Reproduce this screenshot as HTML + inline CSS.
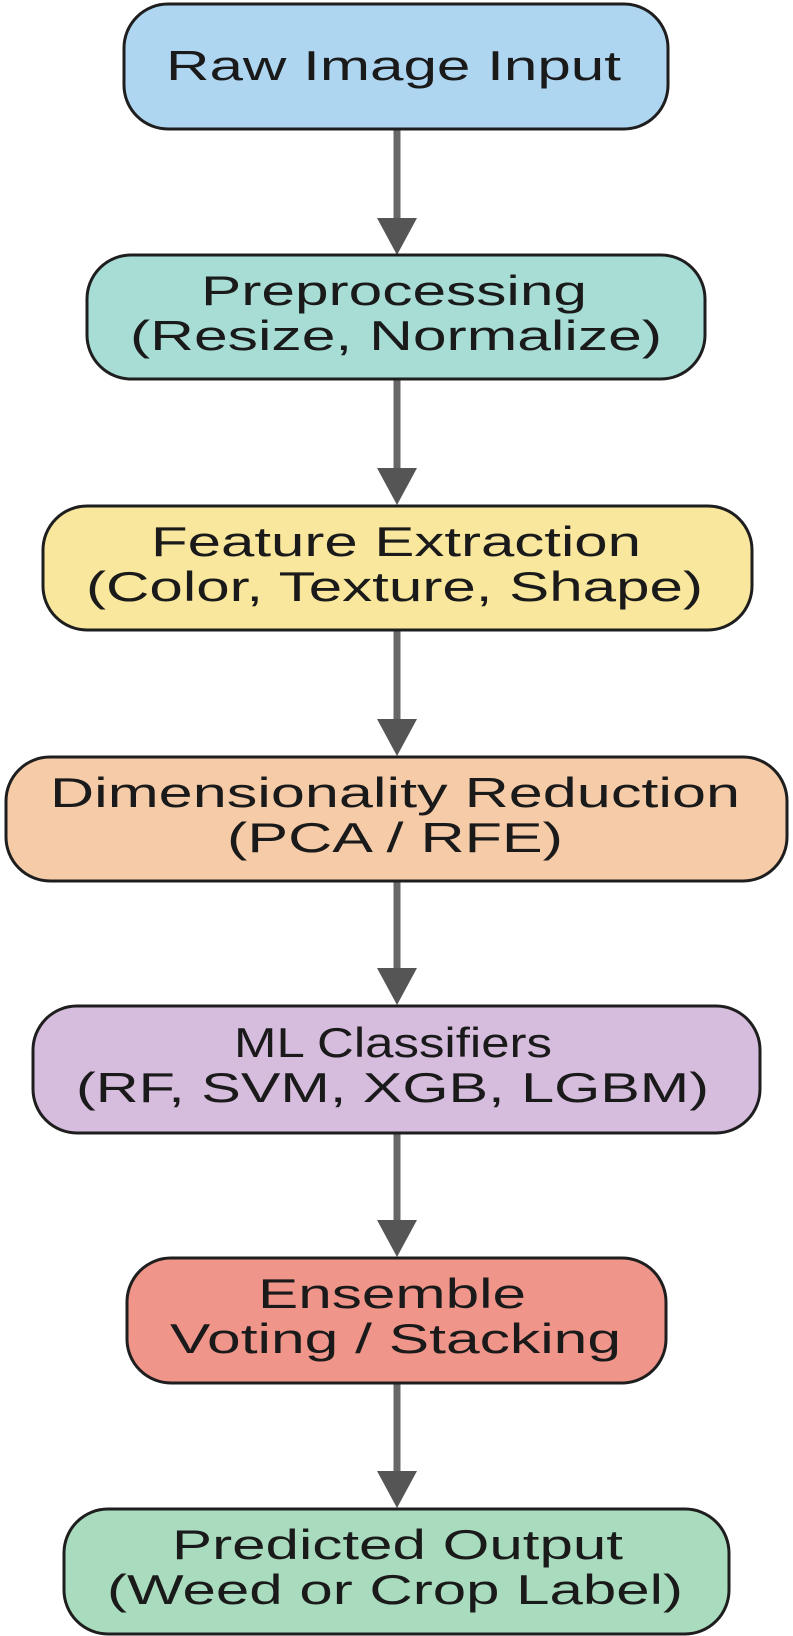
<!DOCTYPE html>
<html><head><meta charset="utf-8"><style>
html,body{margin:0;padding:0;background:#fff;}
svg{display:block;}
text{font-family:"Liberation Sans",sans-serif;font-size:42px;fill:#1a1a1a;}
</style></head><body>
<svg width="793" height="1636" viewBox="0 0 793 1636" xmlns="http://www.w3.org/2000/svg">
<g stroke="#676767" stroke-width="7">
<line x1="397" y1="129" x2="397" y2="222"/>
<line x1="397" y1="379" x2="397" y2="472"/>
<line x1="397" y1="630" x2="397" y2="723"/>
<line x1="397" y1="881" x2="397" y2="972"/>
<line x1="397" y1="1133" x2="397" y2="1224"/>
<line x1="397" y1="1383" x2="397" y2="1475"/>
</g>
<g fill="#555">
<polygon points="377,218 417,218 397,255"/>
<polygon points="377,468 417,468 397,505"/>
<polygon points="377,719 417,719 397,756"/>
<polygon points="377,968 417,968 397,1005"/>
<polygon points="377,1220 417,1220 397,1257"/>
<polygon points="377,1471 417,1471 397,1508"/>
</g>
<g stroke="#1e1e1e" stroke-width="3">
<rect x="124" y="4" width="544" height="125" rx="44" fill="#aed6f1"/>
<rect x="87" y="255" width="618" height="124" rx="44" fill="#a7ddd5"/>
<rect x="43" y="506" width="709" height="124" rx="44" fill="#f8e79d"/>
<rect x="6" y="757" width="781" height="124" rx="44" fill="#f6cba8"/>
<rect x="33" y="1006" width="727" height="127" rx="44" fill="#d6bcdd"/>
<rect x="127" y="1258" width="539" height="125" rx="44" fill="#f0958a"/>
<rect x="64" y="1509" width="665" height="125" rx="44" fill="#a9dcbe"/>
</g>
<text x="166" y="80" textLength="455" lengthAdjust="spacingAndGlyphs">Raw Image Input</text>
<text x="201" y="305" textLength="386" lengthAdjust="spacingAndGlyphs">Preprocessing</text>
<text x="130" y="350" textLength="532" lengthAdjust="spacingAndGlyphs">(Resize, Normalize)</text>
<text x="151" y="556" textLength="490" lengthAdjust="spacingAndGlyphs">Feature Extraction</text>
<text x="86" y="601" textLength="617" lengthAdjust="spacingAndGlyphs">(Color, Texture, Shape)</text>
<text x="50" y="807" textLength="690" lengthAdjust="spacingAndGlyphs">Dimensionality Reduction</text>
<text x="227" y="852" textLength="336" lengthAdjust="spacingAndGlyphs">(PCA / RFE)</text>
<text x="234" y="1057" textLength="318" lengthAdjust="spacingAndGlyphs">ML Classifiers</text>
<text x="76" y="1102" textLength="633" lengthAdjust="spacingAndGlyphs">(RF, SVM, XGB, LGBM)</text>
<text x="258" y="1308" textLength="268" lengthAdjust="spacingAndGlyphs">Ensemble</text>
<text x="170" y="1353" textLength="451" lengthAdjust="spacingAndGlyphs">Voting / Stacking</text>
<text x="172" y="1559" textLength="451" lengthAdjust="spacingAndGlyphs">Predicted Output</text>
<text x="107" y="1604" textLength="576" lengthAdjust="spacingAndGlyphs">(Weed or Crop Label)</text>
</svg>
</body></html>
